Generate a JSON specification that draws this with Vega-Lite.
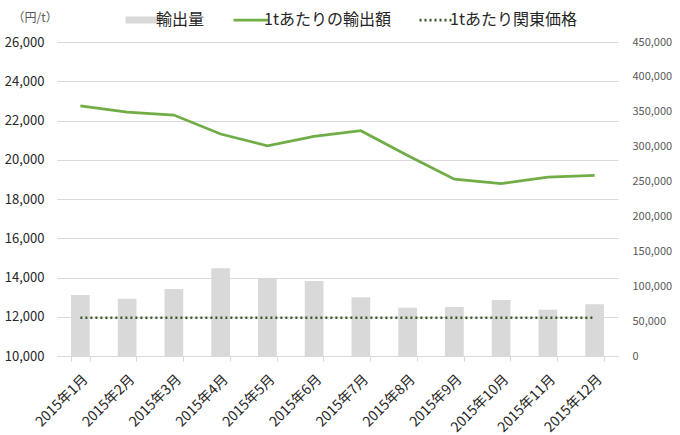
{
  "$schema": "https://vega.github.io/schema/vega-lite/v6.json",
  "autosize": {"type": "none"},
  "width": 561,
  "height": 314,
  "padding": {"left": 57, "top": 42, "right": 62, "bottom": 79},
  "config": {
    "font": "Noto Sans CJK JP",
    "view": {"stroke": null},
    "axis": {"labelFont": "Noto Sans CJK JP", "titleFont": "Noto Sans CJK JP"}
  },
  "data": {
    "values": [
      {"month": "2015年1月", "export": 87400, "price": 22740, "kanto": 11950},
      {"month": "2015年2月", "export": 82100, "price": 22430, "kanto": 11950},
      {"month": "2015年3月", "export": 96000, "price": 22280, "kanto": 11950},
      {"month": "2015年4月", "export": 125700, "price": 21310, "kanto": 11950},
      {"month": "2015年5月", "export": 111300, "price": 20710, "kanto": 11950},
      {"month": "2015年6月", "export": 107500, "price": 21190, "kanto": 11950},
      {"month": "2015年7月", "export": 84100, "price": 21480, "kanto": 11950},
      {"month": "2015年8月", "export": 69200, "price": 20220, "kanto": 11950},
      {"month": "2015年9月", "export": 70200, "price": 19010, "kanto": 11950},
      {"month": "2015年10月", "export": 80200, "price": 18790, "kanto": 11950},
      {"month": "2015年11月", "export": 66400, "price": 19120, "kanto": 11950},
      {"month": "2015年12月", "export": 74000, "price": 19200, "kanto": 11950}
    ]
  },
  "encoding": {
    "x": {
      "field": "month",
      "type": "nominal",
      "sort": null,
      "scale": {"paddingInner": 0.6, "paddingOuter": 0.3},
      "axis": {
        "title": null,
        "labelAngle": -45,
        "labelFontSize": 14,
        "labelColor": "#262626",
        "labelPadding": 11,
        "domainColor": "#d9d9d9",
        "tickColor": "#d9d9d9",
        "tickSize": 5,
        "tickBand": "extent",
        "grid": false
      }
    }
  },
  "layer": [
    {
      "mark": {"type": "bar"},
      "encoding": {
        "y": {
          "field": "export",
          "type": "quantitative",
          "scale": {"domain": [0, 450000], "nice": false},
          "axis": {
            "orient": "right",
            "title": null,
            "values": [0, 50000, 100000, 150000, 200000, 250000, 300000, 350000, 400000, 450000],
            "format": ",.0f",
            "grid": false,
            "domain": false,
            "ticks": false,
            "labelPadding": 14,
            "labelFontSize": 11,
            "labelColor": "#595959"
          }
        },
        "color": {
          "datum": "輸出量",
          "type": "nominal",
          "scale": {
            "domain": ["輸出量", "1tあたりの輸出額", "1tあたり関東価格"],
            "range": ["#d9d9d9", "#70ad47", "#375623"]
          },
          "legend": {
            "title": null,
            "orient": "none",
            "direction": "horizontal",
            "legendX": 78,
            "legendY": -30,
            "symbolSize": 1225,
            "labelFontSize": 16,
            "labelColor": "#262626",
            "labelOffset": 5,
            "labelLimit": 300,
            "columnPadding": 23,
            "encode": {
              "symbols": {
                "update": {
                  "shape": {"signal": "datum.value === '輸出量' ? 'M-1,-0.2H1V0.2H-1Z' : 'M-1,0H1'"},
                  "fill": {"signal": "datum.value === '輸出量' ? '#d9d9d9' : 'transparent'"},
                  "stroke": {"signal": "datum.value === '輸出量' ? 'transparent' : (datum.value === '1tあたりの輸出額' ? '#70ad47' : '#375623')"},
                  "strokeWidth": {"signal": "datum.value === '輸出量' ? 0 : 2.75"},
                  "strokeDash": {"signal": "datum.value === '1tあたり関東価格' ? [2, 3] : [1, 0]"},
                  "opacity": {"value": 1},
                  "fillOpacity": {"value": 1},
                  "strokeOpacity": {"value": 1}
                }
              }
            }
          }
        }
      }
    },
    {
      "layer": [
        {
          "mark": {"type": "line", "strokeWidth": 2.75},
          "encoding": {
            "y": {
              "field": "price",
              "type": "quantitative",
              "scale": {"domain": [10000, 26000], "nice": false},
              "axis": {
                "orient": "left",
                "title": "（円/t）",
                "titleAngle": 0,
                "titleAlign": "left",
                "titleBaseline": "middle",
                "titleX": -45,
                "titleY": -25,
                "titleFontSize": 12,
                "titleFontWeight": "normal",
                "titleColor": "#595959",
                "values": [10000, 12000, 14000, 16000, 18000, 20000, 22000, 24000, 26000],
                "format": ",.0f",
                "grid": true,
                "gridColor": "#d9d9d9",
                "domain": false,
                "ticks": false,
                "labelPadding": 13,
                "labelFontSize": 13,
                "labelColor": "#262626"
              }
            },
            "color": {"datum": "1tあたりの輸出額", "type": "nominal"}
          }
        },
        {
          "mark": {"type": "line", "strokeWidth": 2.5, "strokeDash": [2, 3]},
          "encoding": {
            "y": {
              "field": "kanto",
              "type": "quantitative",
              "scale": {"domain": [10000, 26000], "nice": false},
              "axis": {
                "orient": "left",
                "title": "（円/t）",
                "titleAngle": 0,
                "titleAlign": "left",
                "titleBaseline": "middle",
                "titleX": -45,
                "titleY": -25,
                "titleFontSize": 12,
                "titleFontWeight": "normal",
                "titleColor": "#595959",
                "values": [10000, 12000, 14000, 16000, 18000, 20000, 22000, 24000, 26000],
                "format": ",.0f",
                "grid": true,
                "gridColor": "#d9d9d9",
                "domain": false,
                "ticks": false,
                "labelPadding": 13,
                "labelFontSize": 13,
                "labelColor": "#262626"
              }
            },
            "color": {"datum": "1tあたり関東価格", "type": "nominal"}
          }
        }
      ]
    }
  ],
  "resolve": {"scale": {"y": "independent"}}
}
